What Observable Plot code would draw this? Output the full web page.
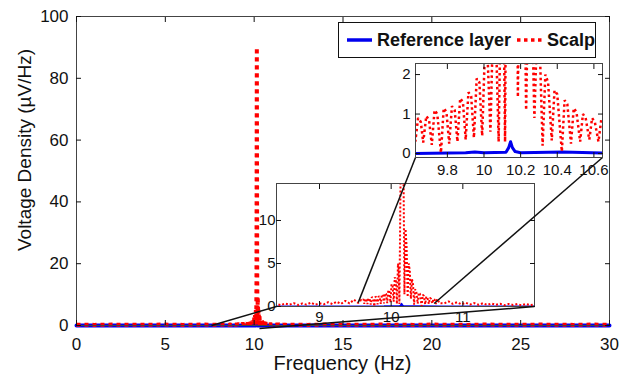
<!DOCTYPE html>
<html><head><meta charset="utf-8">
<script src="https://cdn.jsdelivr.net/npm/d3@7"></script>
<script src="https://cdn.jsdelivr.net/npm/@observablehq/plot@0.6"></script>
<style>
body{margin:0;background:#fff;font-family:"Liberation Sans",Arial,sans-serif;}
#wrap{position:relative;width:627px;height:378px;overflow:hidden;background:#fff;}
#wrap > *{position:absolute;}
</style></head><body><div id="wrap"></div>
<script>
// ---------- data ----------
const seriesNames = ["Reference layer", "Scalp"];
const seriesColors = ["#0000ee", "#ff0000"];

const scalpFreq = [
  0,1,2,3,4,5,6,7,8,
  8.40,8.46,8.52,8.58,8.64,8.70,8.76,8.82,8.88,8.94,9.00,9.06,9.12,9.18,9.24,9.30,9.36,9.42,9.48,9.54,9.58,
  9.600,9.615,9.625, 9.640,9.655,9.668, 9.685,9.700,9.715, 9.730,9.745,9.765,
  9.780,9.795,9.810, 9.825,9.840,9.855, 9.870,9.885,9.900, 9.915,9.930,9.945,
  9.960,9.975,9.990, 10.005,10.020,10.035, 10.050,10.065,10.080, 10.095,10.105,10.115,
  10.130,10.150,10.170,10.185, 10.200,10.215,10.230, 10.245,10.260,10.275,
  10.290,10.305,10.320, 10.335,10.350,10.370, 10.385,10.400,10.425, 10.440,10.455,10.475,
  10.490,10.505,10.525, 10.540,10.555,10.575, 10.590,10.605,10.625, 10.640,10.655,10.670,
  10.74,10.80,10.86,10.92,10.98,11.04,11.10,11.16,11.22,11.28,11.34,11.40,11.46,11.52,11.58,11.64,11.70,11.76,11.82,11.88,11.94,12.00,
  13,14,15,16,17,18,19,20,21,22,23,24,25,26,27,28,29,30
];
const scalpValue = [
  0.25,0.20,0.30,0.20,0.25,0.30,0.20,0.30,0.25,
  0.30,0.15,0.35,0.20,0.40,0.18,0.35,0.22,0.45,0.20,0.38,0.25,0.50,0.28,0.55,0.30,0.65,0.35,0.80,0.40,0.75,
  0.70,0.85,0.30, 0.90,0.80,0.28, 0.95,0.85,0.22, 1.10,1.00,0.02,
  1.15,1.05,0.25, 1.20,1.10,0.30, 1.40,1.30,0.35, 1.55,1.45,0.40,
  1.90,1.80,0.45, 2.60,2.40,0.55, 3.40,3.00,0.30, 5.00,4.50,0.30,
  14.0,90.0,18.0,1.43, 9.00,7.00,1.10, 5.00,4.20,0.90,
  3.20,2.60,0.20, 2.00,1.80,0.33, 1.60,1.50,0.05, 1.35,1.25,0.25,
  1.15,1.05,0.30, 1.00,0.90,0.35, 0.90,0.80,0.30, 0.85,0.75,0.40,
  0.35,0.60,0.30,0.50,0.25,0.45,0.22,0.40,0.20,0.38,0.18,0.35,0.20,0.32,0.15,0.30,0.18,0.28,0.15,0.30,0.15,0.25,
  0.20,0.30,0.25,0.20,0.30,0.25,0.20,0.30,0.25,0.20,0.30,0.25,0.20,0.30,0.25,0.20,0.30,0.25
];
const refFreq  = [0, 5, 9.6, 9.9, 9.95, 10.0, 10.12, 10.135, 10.145, 10.155, 10.17, 10.2, 10.43, 10.7, 15, 20, 25, 30];
const refValue = [0.02,0.03,0.0,0.02,0.04,0.02,0.03,0.15,0.30,0.15,0.05,0.02,0.04,0.01,0.02,0.03,0.02,0.02];

const mainXTicks = [0,5,10,15,20,25,30];
const mainYTicks = [0,20,40,60,80,100];
const midXTicks = [9,10,11];
const midYTicks = [0,5,10];
const topXTicks = [9.8,10,10.2,10.4,10.6];
const topYTicks = [0,1,2];
const xTitle = "Frequency (Hz)";
const yTitle = "Voltage Density (\u00b5V/Hz)";

// ---------- tables ----------
const scalp = scalpFreq.map((f,i)=>({f, v: scalpValue[i]}));
const ref = refFreq.map((f,i)=>({f, v: refValue[i]}));

const FONT = "Liberation Sans, Arial, sans-serif";
function panel(o){
  return Plot.plot({
    width:o.width, height:o.height,
    marginLeft:o.m[0], marginRight:o.m[1], marginTop:o.m[2], marginBottom:o.m[3],
    style:{fontFamily:FONT, fontSize:o.font+"px", color:"#111", background:"transparent", overflow:"visible"},
    x:{domain:o.xd}, y:{domain:o.yd},
    marks:[
      Plot.frame({fill:"white", stroke:"none"}),
      Plot.line(ref, {x:"f", y:"v", stroke:seriesColors[0], strokeWidth:o.blw, clip:o.clip}),
      Plot.line(scalp, {x:"f", y:"v", stroke:seriesColors[1], strokeWidth:o.lw, strokeDasharray:o.dash, strokeLinejoin:"miter", strokeLinecap:"butt", clip:o.clip}),
      Plot.frame({stroke:"#444", strokeWidth:1}),
      Plot.axisX(o.xt, {anchor:"bottom", tickSize:-5, tickPadding:o.xp, tickFormat:d=>`${d}`, label:null}),
      Plot.axisX(o.xt, {anchor:"top", tickSize:-5, tickFormat:()=>"", label:null}),
      Plot.axisY(o.yt, {anchor:"left", tickSize:-5, tickPadding:o.yp, tickFormat:d=>`${d}`, label:null}),
      Plot.axisY(o.yt, {anchor:"right", tickSize:-5, tickFormat:()=>"", label:null})
    ]
  });
}

const wrap = document.getElementById("wrap");

// main panel (frame 76..609 x 16..325)
const main = panel({width:627, height:378, m:[76,18,16,53], font:17, xd:[0,30], yd:[0,100],
  xt:mainXTicks, yt:mainYTicks, lw:4, blw:4, dash:"4,4", clip:false, xp:17, yp:13});
main.style.left="0px"; main.style.top="0px";
wrap.appendChild(main);

// middle inset (frame 276..534 x 183..306)
const MID = {left:256, top:178};
const mid = panel({width:288, height:150, m:[20,10,5,22], font:15, xd:[8.4,12], yd:[0,14.3],
  xt:midXTicks, yt:midYTicks, lw:2, blw:2, dash:"2,2", clip:true, xp:10, yp:6});
mid.style.left=MID.left+"px"; mid.style.top=MID.top+"px";
wrap.appendChild(mid);

// top-right inset (frame 415..602 x 63..157)
const TOP = {left:399, top:59};
const topP = panel({width:211, height:120, m:[16,8,4,22], font:15, xd:[9.626,10.647], yd:[-0.1,2.28],
  xt:topXTicks, yt:topYTicks, lw:2.5, blw:3, dash:"2.5,3", clip:true, xp:12, yp:10});
topP.style.left=TOP.left+"px"; topP.style.top=TOP.top+"px";

// connector lines (endpoints in each panel's data coordinates)
const P = {main:[main,0,0], mid:[mid,MID.left,MID.top], top:[topP,TOP.left,TOP.top]};
const px = (k,x,y)=>{const [p,ox,oy]=P[k]; return [ox+p.scale("x").apply(x), oy+p.scale("y").apply(y)];};
const connectors = [
  [["main",7.6,0],["mid",8.4,0]],
  [["main",10.3,-1.0],["mid",12,0]],
  [["mid",9.54,0.45],["top",9.626,-0.1]],
  [["mid",10.6,0.35],["top",10.647,-0.1]]
].map(([a,b])=>{const [x1,y1]=px(...a); const [x2,y2]=px(...b); return {x1,y1,x2,y2};});

const overlay = Plot.plot({
  width:627, height:378, margin:0,
  x:{domain:[0,627], range:[0,627]}, y:{domain:[0,378], range:[0,378]},
  axis:null, style:{background:"transparent"},
  marks:[Plot.link(connectors, {x1:"x1", y1:"y1", x2:"x2", y2:"y2", stroke:"#111", strokeWidth:1.5})]
});
overlay.style.left="0px"; overlay.style.top="0px";
wrap.appendChild(overlay);
wrap.appendChild(topP);

// axis titles
const titles = d3.create("svg").attr("width",627).attr("height",378)
  .style("left","0px").style("top","0px").style("pointer-events","none")
  .style("font-family",FONT).attr("fill","#111");
const mx = main.scale("x");
titles.append("text").attr("x",(mx.apply(0)+mx.apply(30))/2).attr("y",370)
  .attr("text-anchor","middle").attr("font-size",20).text(xTitle);
titles.append("text").attr("transform","translate(31,150) rotate(-90)")
  .attr("text-anchor","middle").attr("font-size",19).text(yTitle);
wrap.appendChild(titles.node());

// legend
const leg = document.createElement("div");
leg.style.cssText = "left:338px;top:22px;width:256px;height:34px;border:1.5px solid #111;background:#fff;display:flex;align-items:center;font:bold 18px "+FONT+";color:#111;white-space:nowrap;";
seriesNames.forEach((name,i)=>{
  const sw = d3.create("svg").attr("width",28).attr("height",10).style("margin-left", i===0?"8px":"6px").style("margin-right","5px");
  sw.append("line").attr("x1",0).attr("x2",28).attr("y1",5).attr("y2",5)
    .attr("stroke",seriesColors[i]).attr("stroke-width",3.5)
    .attr("stroke-dasharray", i===1?"3.5,3.5":null);
  leg.appendChild(sw.node());
  const t = document.createElement("span"); t.textContent = name; leg.appendChild(t);
});
wrap.appendChild(leg);
</script></body></html>
